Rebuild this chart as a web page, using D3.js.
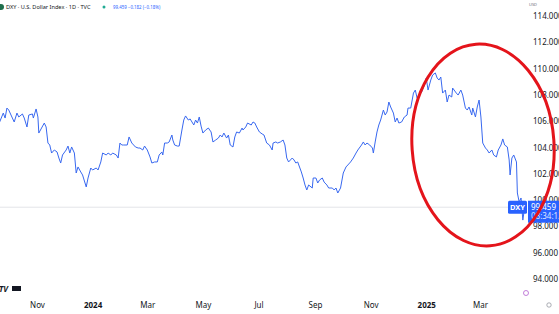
<!DOCTYPE html>
<html>
<head>
<meta charset="utf-8">
<script src="https://cdn.jsdelivr.net/npm/d3@7"></script>
<style>
body { margin: 0; background: #fff; overflow: hidden; }
svg { display: block; font-family: "Noto Sans", "Open Sans", sans-serif; }
.axis .domain, .axis line { display: none; }
</style>
</head>
<body>
<div id="chart"></div>
<script>

// DXY daily closes
var dates = [
	"2023-09-21","2023-09-25","2023-09-27","2023-09-29","2023-10-01","2023-10-05","2023-10-07","2023-10-10",
	"2023-10-12","2023-10-16","2023-10-18","2023-10-21","2023-10-23","2023-10-27","2023-10-28","2023-10-31",
	"2023-11-02","2023-11-03","2023-11-06","2023-11-09","2023-11-11","2023-11-13","2023-11-15","2023-11-17",
	"2023-11-20","2023-11-23","2023-11-25","2023-11-27","2023-11-29","2023-12-03","2023-12-05","2023-12-07",
	"2023-12-09","2023-12-12","2023-12-14","2023-12-16","2023-12-19","2023-12-21","2023-12-25","2023-12-27",
	"2023-12-30","2024-01-01","2024-01-05","2024-01-07","2024-01-10","2024-01-12","2024-01-16","2024-01-18",
	"2024-01-21","2024-01-23","2024-01-27","2024-01-29","2024-01-31","2024-02-02","2024-02-04","2024-02-08",
	"2024-02-10","2024-02-13","2024-02-17","2024-02-20","2024-02-22","2024-02-25","2024-02-27","2024-03-01",
	"2024-03-04","2024-03-06","2024-03-09","2024-03-12","2024-03-14","2024-03-17","2024-03-18","2024-03-20",
	"2024-03-23","2024-03-25","2024-03-28","2024-03-29","2024-03-31","2024-04-03","2024-04-05","2024-04-08",
	"2024-04-10","2024-04-12","2024-04-15","2024-04-17","2024-04-19","2024-04-21","2024-04-23","2024-04-25",
	"2024-04-27","2024-04-29","2024-05-01","2024-05-04","2024-05-07","2024-05-10","2024-05-12","2024-05-15",
	"2024-05-18","2024-05-20","2024-05-22","2024-05-24","2024-05-27","2024-05-29","2024-05-31","2024-06-03",
	"2024-06-05","2024-06-07","2024-06-10","2024-06-13","2024-06-14","2024-06-17","2024-06-19","2024-06-23",
	"2024-06-25","2024-06-27","2024-06-29","2024-07-02","2024-07-05","2024-07-07","2024-07-10","2024-07-13",
	"2024-07-16","2024-07-17","2024-07-20","2024-07-22","2024-07-25","2024-07-28","2024-07-30","2024-08-01",
	"2024-08-03","2024-08-07","2024-08-09","2024-08-11","2024-08-13","2024-08-17","2024-08-19","2024-08-21",
	"2024-08-23","2024-08-25","2024-08-29","2024-08-30","2024-09-02","2024-09-04","2024-09-06","2024-09-09",
	"2024-09-11","2024-09-14","2024-09-16","2024-09-20","2024-09-22","2024-09-24","2024-09-26","2024-09-29",
	"2024-10-02","2024-10-05","2024-10-07","2024-10-10","2024-10-13","2024-10-16","2024-10-18","2024-10-22",
	"2024-10-24","2024-10-26","2024-10-28","2024-10-31","2024-11-03","2024-11-04","2024-11-06","2024-11-08",
	"2024-11-10","2024-11-12","2024-11-15","2024-11-17","2024-11-19","2024-11-21","2024-11-23","2024-11-26",
	"2024-11-28","2024-11-30","2024-12-02","2024-12-05","2024-12-08","2024-12-11","2024-12-12","2024-12-15",
	"2024-12-18","2024-12-20","2024-12-22","2024-12-24","2024-12-27","2024-12-30","2025-01-01","2025-01-03",
	"2025-01-06","2025-01-08","2025-01-11","2025-01-13","2025-01-15","2025-01-17","2025-01-19","2025-01-22",
	"2025-01-24","2025-01-26","2025-01-29","2025-01-30","2025-02-03","2025-02-05","2025-02-08","2025-02-10",
	"2025-02-13","2025-02-15","2025-02-17","2025-02-20","2025-02-21","2025-02-24","2025-02-26","2025-02-28",
	"2025-03-02","2025-03-04","2025-03-07","2025-03-09","2025-03-11","2025-03-14","2025-03-16","2025-03-19",
	"2025-03-21","2025-03-24","2025-03-26","2025-03-28","2025-03-31","2025-04-02","2025-04-03","2025-04-05",
	"2025-04-07","2025-04-10","2025-04-11","2025-04-13","2025-04-15","2025-04-17","2025-04-19"
];

var closes = [
	105.94,106.62,106.24,107.00,106.85,106.24,105.94,106.62,
	106.32,106.55,106.24,105.56,106.47,106.55,106.24,106.93,
	106.32,105.10,105.48,105.86,105.56,104.34,104.19,103.58,
	103.81,103.66,103.20,102.82,103.43,103.81,104.11,103.58,
	104.04,103.58,102.06,102.52,102.14,101.91,101.00,101.68,
	102.44,102.29,102.44,102.29,102.90,103.58,103.43,103.58,
	103.43,103.58,103.43,103.20,104.34,104.19,104.19,104.19,
	104.80,104.34,104.04,103.96,103.96,103.81,104.11,103.81,
	103.28,102.82,102.90,102.90,103.43,103.66,103.43,104.34,
	104.34,104.42,104.95,104.57,104.19,104.11,104.11,105.33,
	106.09,106.40,106.09,106.17,105.94,105.71,106.09,105.86,
	106.32,105.63,105.10,105.33,105.48,105.18,104.42,104.57,
	104.72,104.95,104.80,105.10,104.72,104.95,104.19,104.04,
	104.80,105.18,105.10,105.48,105.33,105.56,105.86,105.71,
	105.94,105.86,105.56,105.18,105.03,104.95,104.34,104.19,
	103.81,104.34,104.42,104.34,104.42,104.57,104.19,103.20,
	102.90,103.20,103.05,102.82,102.90,102.14,101.68,101.15,
	100.77,101.15,100.92,101.68,101.68,101.30,101.53,101.68,
	101.37,101.15,100.92,100.92,100.77,100.92,100.54,100.92,
	102.06,102.52,102.67,102.90,103.20,103.58,103.81,104.19,
	104.42,104.19,104.34,104.19,103.96,103.58,104.42,105.18,
	105.71,106.09,106.85,106.47,106.70,107.46,107.08,106.62,
	105.94,106.24,105.86,105.94,106.32,106.47,107.00,107.00,
	108.14,108.37,107.76,107.99,108.22,108.75,109.28,108.37,
	109.13,109.51,109.67,109.28,109.13,109.36,108.14,108.37,
	107.46,107.99,107.84,108.52,108.14,107.99,108.37,107.99,
	107.00,106.85,107.08,106.47,107.00,106.32,107.08,107.61,
	106.32,104.34,103.96,103.81,103.58,103.81,103.43,103.28,
	103.81,104.19,104.65,104.19,104.04,103.05,101.91,103.20,
	103.43,102.90,100.54,99.85,100.16,98.48,99.46
];

var priceTicks = [94, 96, 98, 100, 102, 104, 106, 108, 110, 112, 114];
var timeTicks = ["2023-11-01","2024-01-01","2024-03-01","2024-05-01","2024-07-01","2024-09-01","2024-11-01","2025-01-01","2025-03-01"];
var timeLabels = ["Nov","2024","Mar","May","Jul","Sep","Nov","2025","Mar"];

var lastPrice = 99.459;
var lastChange = "\u22120.182 (\u22120.18%)";
var lastTime = "08:34:12";


LineChart = function(_parentElement, _dates, _values){
	this.parentElement = _parentElement;
	this.data = _dates.map(function(d, i){
		return { date: d3.utcParse("%Y-%m-%d")(d), value: _values[i] };
	});

	this.initVis();
}


LineChart.prototype.initVis = function(){
	var vis = this;

	vis.w = 559;
	vis.h = 314;
	vis.plotRight = 530;
	vis.blue = "#2962ff";

	vis.svg = d3.select("#" + vis.parentElement)
		.append("svg")
			.attr("width", vis.w)
			.attr("height", vis.h);

	// Scales (month ticks line up with the time axis of the picture)
	vis.x = d3.scaleUtc()
		.domain([new Date(Date.UTC(2023, 10, 1)), new Date(Date.UTC(2025, 2, 1))])
		.range([37, 480]);

	vis.y = d3.scaleLinear()
		.domain([94, 114])
		.range([279, 16]);

	vis.svg.append("defs").append("clipPath")
			.attr("id", "plot-clip")
		.append("rect")
			.attr("x", 0).attr("y", 0)
			.attr("width", vis.plotRight).attr("height", 290);

	vis.updateVis();
}


LineChart.prototype.updateVis = function(){
	var vis = this;

	// price line behind everything
	vis.svg.append("line")
		.attr("x1", 0)
		.attr("x2", 510)
		.attr("y1", vis.y(lastPrice))
		.attr("y2", vis.y(lastPrice))
		.attr("stroke", "#e3e4e8")
		.attr("stroke-width", 1);

	var line = d3.line()
		.x(function(d) { return vis.x(d.date); })
		.y(function(d) { return vis.y(d.value); });

	vis.svg.append("path")
		.datum(vis.data)
		.attr("clip-path", "url(#plot-clip)")
		.attr("fill", "none")
		.attr("stroke", "#3868f0")
		.attr("stroke-width", 1)
		.attr("stroke-linejoin", "round")
		.attr("d", line);

	// price scale
	var yAxis = d3.axisRight(vis.y)
		.tickValues(priceTicks)
		.tickSize(0)
		.tickPadding(0)
		.tickFormat(d3.format(".3f"));

	vis.svg.append("g")
		.attr("class", "axis y-axis")
		.attr("transform", "translate(533,0)")
		.call(yAxis)
		.selectAll("text")
			.attr("font-size", 8)
			.attr("font-family", "Noto Sans")
			.attr("fill", "#131722");

	vis.svg.append("text")
		.attr("x", 529).attr("y", 6)
		.attr("font-size", 4)
		.attr("fill", "#6a6d78")
		.text("USD");

	// time scale
	var xAxis = d3.axisBottom(vis.x)
		.tickValues(timeTicks.map(function(t){ return d3.utcParse("%Y-%m-%d")(t); }))
		.tickSize(0)
		.tickPadding(0)
		.tickFormat(function(d, i){ return timeLabels[i]; });

	vis.svg.append("g")
		.attr("class", "axis x-axis")
		.attr("transform", "translate(0,302)")
		.call(xAxis)
		.selectAll("text")
			.attr("font-size", 8)
			.attr("font-family", "Noto Sans")
			.attr("fill", "#131722")
			.attr("font-weight", function(d, i){ return /^\d+$/.test(timeLabels[i]) ? "bold" : "normal"; });

	// last price labels
	var py = vis.y(lastPrice);
	vis.svg.append("rect")
		.attr("x", 508).attr("y", py - 6.5)
		.attr("width", 19).attr("height", 13)
		.attr("rx", 1.5)
		.attr("fill", vis.blue);
	vis.svg.append("text")
		.attr("x", 517.5).attr("y", py + 3)
		.attr("text-anchor", "middle")
		.attr("font-size", 7.5)
		.attr("font-weight", "bold")
		.attr("fill", "#fff")
		.text("DXY");

	vis.svg.append("rect")
		.attr("x", 528).attr("y", py - 6.5)
		.attr("width", 32).attr("height", 22)
		.attr("fill", vis.blue);
	vis.svg.append("text")
		.attr("x", 531).attr("y", py + 3)
		.attr("font-size", 8)
		.attr("fill", "#fff")
		.text(d3.format(".3f")(lastPrice));
	vis.svg.append("text")
		.attr("x", 531).attr("y", py + 12)
		.attr("font-size", 8)
		.attr("fill", "#dfe6ff")
		.text(lastTime);

	// headline
	vis.svg.append("circle")
		.attr("cx", 1).attr("cy", 7).attr("r", 3)
		.attr("fill", "#1f6e4c");
	vis.svg.append("text")
		.attr("x", 6).attr("y", 9)
		.attr("font-size", 5.6)
		.attr("fill", "#131722")
		.text("DXY \u00b7 U.S. Dollar Index \u00b7 1D \u00b7 TVC");
	vis.svg.append("circle")
		.attr("cx", 104).attr("cy", 7).attr("r", 1.5)
		.attr("fill", "#22ab94");
	vis.svg.append("text")
		.attr("x", 113).attr("y", 8.5)
		.attr("font-size", 4.4)
		.attr("fill", vis.blue)
		.text(d3.format(".3f")(lastPrice) + " " + lastChange);

	// logo + icons
	vis.svg.append("text")
		.attr("x", -1).attr("y", 292)
		.attr("font-size", 8)
		.attr("font-weight", "bold")
		.attr("font-style", "italic")
		.attr("fill", "#131722")
		.text("TV");
	vis.svg.append("rect")
		.attr("x", 12).attr("y", 286)
		.attr("width", 9).attr("height", 5)
		.attr("fill", "#131722");

	vis.svg.append("circle")
		.attr("cx", 526).attr("cy", 293).attr("r", 2.5)
		.attr("fill", "none")
		.attr("stroke", "#b45fd0")
		.attr("stroke-width", 0.8);
	vis.svg.append("circle")
		.attr("cx", 549).attr("cy", 305).attr("r", 2.2)
		.attr("fill", "none")
		.attr("stroke", "#9598a1")
		.attr("stroke-width", 0.8);

	// red ellipse annotation
	vis.svg.append("ellipse")
		.attr("cx", 483).attr("cy", 145)
		.attr("rx", 71).attr("ry", 101)
		.attr("transform", "rotate(-4,483,145)")
		.attr("fill", "none")
		.attr("stroke", "#e4141b")
		.attr("stroke-width", 3);
}


var chart = new LineChart("chart", dates, closes);

</script>
</body>
</html>
